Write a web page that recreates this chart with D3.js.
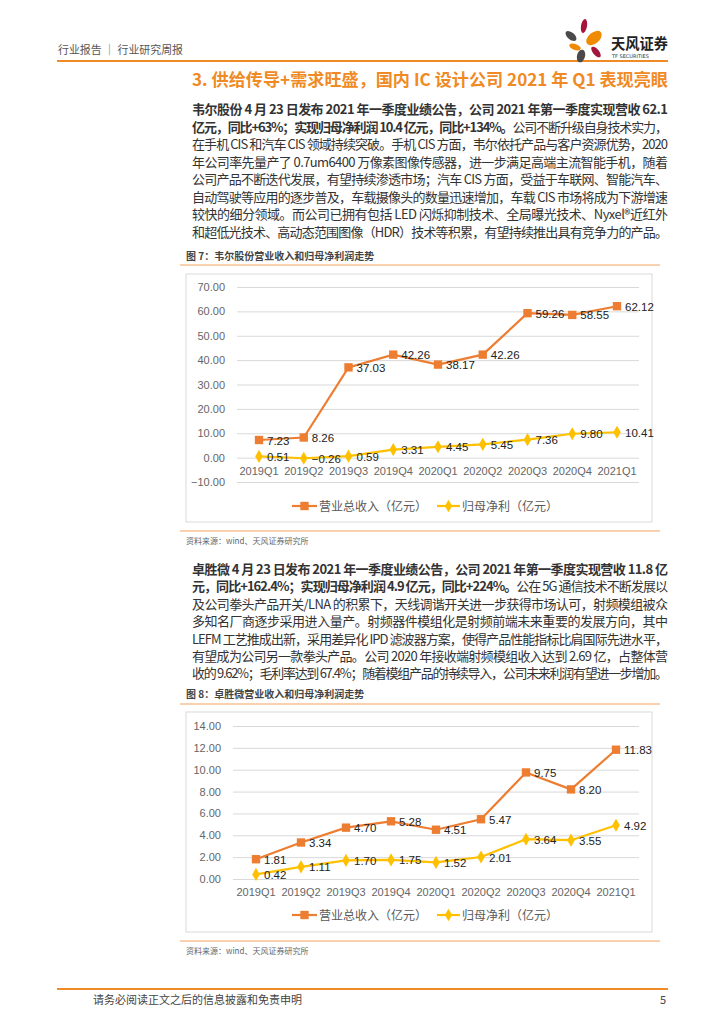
<!DOCTYPE html>
<html><head><meta charset="utf-8">
<script src="https://cdn.jsdelivr.net/npm/d3@7"></script>
<style>html,body{margin:0;padding:0;background:#fff;}svg{display:block;}</style>
</head><body>
<svg id="page" width="724" height="1024"></svg>
<script>
const categories = ["2019Q1","2019Q2","2019Q3","2019Q4","2020Q1","2020Q2","2020Q3","2020Q4","2021Q1"];
const weierRevenue = [7.23, 8.26, 37.03, 42.26, 38.17, 42.26, 59.26, 58.55, 62.12];
const weierProfit  = [0.51, -0.26, 0.59, 3.31, 4.45, 5.45, 7.36, 9.80, 10.41];
const weierTicks = [-10, 0, 10, 20, 30, 40, 50, 60, 70];
const zswRevenue = [1.81, 3.34, 4.70, 5.28, 4.51, 5.47, 9.75, 8.20, 11.83];
const zswProfit  = [0.42, 1.11, 1.70, 1.75, 1.52, 2.01, 3.64, 3.55, 4.92];
const zswTicks = [0, 2, 4, 6, 8, 10, 12, 14];
const seriesNames = ["营业总收入（亿元）", "归母净利（亿元）"];

const para1 = [
  [["b","韦尔股份 4 月 23 日发布 2021 年一季度业绩公告，公司 2021 年第一季度实现营收 62.1"]],
  [["b","亿元，同比+63%；实现归母净利润 10.4 亿元，同比+134%。"],["n","公司不断升级自身技术实力，"]],
  [["n","在手机 CIS 和汽车 CIS 领域持续突破。手机 CIS 方面，韦尔依托产品与客户资源优势，2020"]],
  [["n","年公司率先量产了 0.7um6400 万像素图像传感器，进一步满足高端主流智能手机，随着"]],
  [["n","公司产品不断迭代发展，有望持续渗透市场；汽车 CIS 方面，受益于车联网、智能汽车、"]],
  [["n","自动驾驶等应用的逐步普及，车载摄像头的数量迅速增加，车载 CIS 市场将成为下游增速"]],
  [["n","较快的细分领域。而公司已拥有包括 LED 闪烁抑制技术、全局曝光技术、Nyxel®近红外"]],
  [["n","和超低光技术、高动态范围图像（HDR）技术等积累，有望持续推出具有竞争力的产品。"]]
];
const para2 = [
  [["b","卓胜微 4 月 23 日发布 2021 年一季度业绩公告，公司 2021 年第一季度实现营收 11.8 亿"]],
  [["b","元，同比+162.4%；实现归母净利润 4.9 亿元，同比+224%。"],["n","公在 5G 通信技术不断发展以"]],
  [["n","及公司拳头产品开关/LNA 的积累下，天线调谐开关进一步获得市场认可，射频模组被众"]],
  [["n","多知名厂商逐步采用进入量产。射频器件模组化是射频前端未来重要的发展方向，其中"]],
  [["n","LEFM 工艺推成出新，采用差异化 IPD 滤波器方案，使得产品性能指标比肩国际先进水平，"]],
  [["n","有望成为公司另一款拳头产品。公司 2020 年接收端射频模组收入达到 2.69 亿，占整体营"]],
  [["n","收的 9.62%；毛利率达到 67.4%；随着模组产品的持续导入，公司未来利润有望进一步增加。"]]
];

const FONT = "'Noto Sans CJK SC','Noto Sans',sans-serif";
const ORANGE = "#ED7D31", YELLOW = "#FFC000", HEAD = "#F08A24";
const svg = d3.select("#page").attr("font-family", FONT);

// Header
svg.append("text").attr("x",58).attr("y",54).attr("font-size",11.5).attr("fill","#555")
  .attr("textLength",125).attr("lengthAdjust","spacingAndGlyphs")
  .text("行业报告 │ 行业研究周报");
svg.append("line").attr("x1",57).attr("x2",668).attr("y1",61).attr("y2",61)
  .attr("stroke",HEAD).attr("stroke-width",2);
// logo petals
const petals = [
  {cx:584,cy:26,rx:3,ry:7,r:10,c:"#A3153B"},
  {cx:571,cy:36,rx:3.5,ry:6.5,r:-50,c:"#4A4A4A"},
  {cx:594,cy:38,rx:5.5,ry:9,r:50,c:"#F08A00"},
  {cx:575,cy:47,rx:3,ry:6,r:-70,c:"#F08A00"},
  {cx:596,cy:52,rx:3,ry:6.5,r:-40,c:"#A3153B"},
  {cx:581,cy:56,rx:4,ry:6.5,r:15,c:"#4A4A4A"}
];
svg.selectAll("ellipse.petal").data(petals).join("ellipse").attr("class","petal")
  .attr("cx",d=>d.cx).attr("cy",d=>d.cy).attr("rx",d=>d.rx).attr("ry",d=>d.ry)
  .attr("transform",d=>`rotate(${d.r},${d.cx},${d.cy})`).attr("fill",d=>d.c);
svg.append("text").attr("x",611).attr("y",49).attr("font-size",15).attr("font-weight","bold")
  .attr("fill","#222").attr("textLength",57).attr("lengthAdjust","spacingAndGlyphs").text("天风证券");
svg.append("text").attr("x",612).attr("y",58).attr("font-size",5).attr("fill","#333")
  .attr("font-family","'DejaVu Sans',sans-serif").text("TF SECURITIES");

// Section title
svg.append("text").attr("x",668).attr("y",86).attr("text-anchor","end").attr("font-size",17)
  .attr("font-weight","bold").attr("fill",HEAD).attr("textLength",476).attr("lengthAdjust","spacingAndGlyphs")
  .text("3. 供给传导+需求旺盛，国内 IC 设计公司 2021 年 Q1 表现亮眼");

function drawPara(lines, x, y0, lh, width){
  lines.forEach((segs,i)=>{
    const t = svg.append("text").attr("x",x).attr("y",y0+i*lh).attr("font-size",13).attr("fill","#333")
      .attr("textLength",width).attr("lengthAdjust","spacing");
    segs.forEach(s=>{
      t.append("tspan").attr("font-weight", s[0]==="b"?"bold":"normal").text(s[1]);
    });
  });
}
drawPara(para1, 192, 114, 17.5, 476);
drawPara(para2, 192, 574, 17.4, 476);

function drawChart(cfg){
  svg.append("text").attr("x",186).attr("y",cfg.titleY).attr("font-size",10).attr("font-weight","bold")
    .attr("fill","#444").text(cfg.title);
  svg.append("line").attr("x1",180).attr("x2",660).attr("y1",cfg.titleLineY).attr("y2",cfg.titleLineY)
    .attr("stroke","#F4A460").attr("stroke-width",1.2);
  svg.append("rect").attr("x",186).attr("y",cfg.boxY).attr("width",466).attr("height",cfg.boxH)
    .attr("fill","#fff").attr("stroke","#D9D9D9").attr("stroke-width",1);
  svg.append("line").attr("x1",180).attr("x2",660).attr("y1",cfg.boxY+cfg.boxH+9).attr("y2",cfg.boxY+cfg.boxH+9)
    .attr("stroke","#F4A460").attr("stroke-width",1.2);
  svg.append("text").attr("x",186).attr("y",cfg.boxY+cfg.boxH+22).attr("font-size",8).attr("fill","#666")
    .text("资料来源：wind、天风证券研究所");

  const y = d3.scaleLinear().domain(cfg.domain).range(cfg.yRange);
  const x = d3.scalePoint().domain(categories).range(cfg.xRange);
  const g = svg.append("g");
  const yAxis = d3.axisLeft(y).tickValues(cfg.ticks).tickSize(-(cfg.gridX2-cfg.gridX1))
    .tickFormat(d3.format(".2f")).tickPadding(cfg.gridX1-cfg.labelX);
  const ag = g.append("g").attr("transform",`translate(${cfg.gridX1},0)`).call(yAxis);
  ag.select(".domain").remove();
  ag.selectAll(".tick line").attr("stroke","#D9D9D9");
  ag.selectAll(".tick text").attr("font-size",11).attr("fill","#666").attr("font-family","'Liberation Sans',Arial,sans-serif");
  g.selectAll("text.xl").data(categories).join("text").attr("class","xl")
    .attr("x",d=>x(d)).attr("y",y(0)+cfg.xLabelDy).attr("text-anchor","middle")
    .attr("font-size",11).attr("fill","#666").attr("font-family","'Liberation Sans',Arial,sans-serif").text(d=>d);

  const line = d3.line().x((d,i)=>x(categories[i])).y(d=>y(d));
  const series = [
    {vals:cfg.rev, color:ORANGE, shape:"square"},
    {vals:cfg.prof, color:YELLOW, shape:"diamond"}
  ];
  series.forEach(s=>{
    g.append("path").datum(s.vals).attr("d",line).attr("fill","none").attr("stroke",s.color).attr("stroke-width",2.2);
    const sym = s.shape==="square" ? d3.symbol(d3.symbolSquare,70) : d3.symbol(d3.symbolDiamond,50);
    g.selectAll(null).data(s.vals).join("path").attr("d",sym)
      .attr("transform",(d,i)=>`translate(${x(categories[i])},${y(d)})`).attr("fill",s.color);
  });
  series.forEach(s=>{
    g.selectAll(null).data(s.vals).join("text")
      .attr("x",(d,i)=>x(categories[i])+8).attr("y",d=>y(d)+4.5)
      .attr("font-size",11.5).attr("fill","#222").attr("font-family","'Liberation Sans',Arial,sans-serif")
      .text(d=>d3.format(".2f")(d));
  });
  const ly = cfg.legendY;
  const legend = [
    {x1:292,x2:317,color:ORANGE,shape:"square",name:seriesNames[0]},
    {x1:437,x2:460,color:YELLOW,shape:"diamond",name:seriesNames[1]}
  ];
  legend.forEach(l=>{
    g.append("line").attr("x1",l.x1).attr("x2",l.x2).attr("y1",ly).attr("y2",ly).attr("stroke",l.color).attr("stroke-width",2.2);
    const sym = l.shape==="square" ? d3.symbol(d3.symbolSquare,70) : d3.symbol(d3.symbolDiamond,45);
    g.append("path").attr("d",sym).attr("transform",`translate(${(l.x1+l.x2)/2},${ly})`).attr("fill",l.color);
    g.append("text").attr("x",l.x2+2).attr("y",ly+4.5).attr("font-size",12).attr("fill","#595959").text(l.name);
  });
}

drawChart({
  title:"图 7：韦尔股份营业收入和归母净利润走势", titleY:260, titleLineY:265,
  boxY:274, boxH:248, domain:[-10,70], yRange:[482,287], ticks:weierTicks,
  xRange:[259,617], gridX1:237, gridX2:639, labelX:225, xLabelDy:17, legendY:506,
  rev:weierRevenue, prof:weierProfit
});
drawChart({
  title:"图 8：卓胜微营业收入和归母净利润走势", titleY:698, titleLineY:704,
  boxY:712, boxH:220, domain:[0,14], yRange:[879,726], ticks:zswTicks,
  xRange:[256,616], gridX1:233, gridX2:639, labelX:221, xLabelDy:17, legendY:915,
  rev:zswRevenue, prof:zswProfit
});

// Footer
svg.append("line").attr("x1",57).attr("x2",668).attr("y1",989).attr("y2",989).attr("stroke",HEAD).attr("stroke-width",2);
svg.append("text").attr("x",93).attr("y",1004).attr("font-size",11).attr("fill","#444").text("请务必阅读正文之后的信息披露和免责申明");
svg.append("text").attr("x",666).attr("y",1004).attr("text-anchor","end").attr("font-size",11).attr("fill","#444").text("5");
</script>
</body></html>
